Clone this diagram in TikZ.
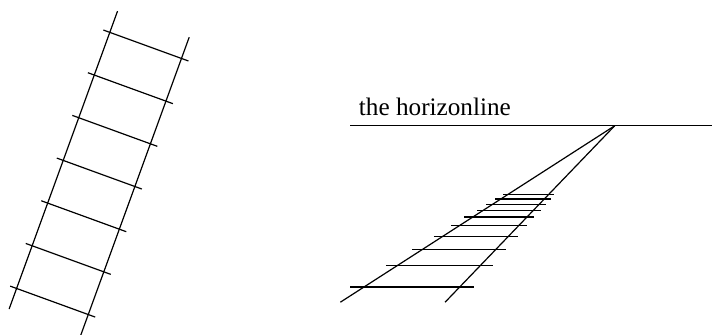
\documentclass[tikz,border=0pt]{standalone}
\usepackage{fontspec}
\setmainfont{Liberation Serif}
\usepackage{tikz}

\begin{document}
\begin{tikzpicture}[
  font=\fontsize{12.6}{15}\selectfont,
  rail/.style={draw=black,line width=0.6pt},
  sleeper/.style={draw=black,line width=0.6pt}
]
  \useasboundingbox (0,0) rectangle (12.51,5.87);

  % ladder, tilted
  \begin{scope}[shift={(0.16,0.44)},rotate=-20]
    \draw[rail] (0,0) -- (0,5.57);
    \draw[rail] (1.34,0) -- (1.34,5.57);
    \foreach \y in {0.385,1.183,1.981,2.779,3.577,4.375,5.173}
      \draw[sleeper] (-0.12,\y) -- (1.47,\y);
  \end{scope}

  % the same ladder seen in perspective
  \coordinate (vp) at (10.80,3.66);
  \coordinate (lend) at (5.98,0.56);
  \coordinate (rend) at (7.82,0.56);
  \node[anchor=base west,inner sep=0pt] (horizon) at (6.30,3.84) {the horizonline};
  \draw[rail] (6.15,3.66) -- (12.51,3.66);
  \draw[rail] (vp) -- (lend);
  \draw[rail] (vp) -- (rend);
  \foreach \y/\xa/\xb in {2.455/8.844/9.735, 2.372/8.699/9.677, 2.279/8.540/9.590,
      2.174/8.382/9.502, 2.056/8.159/9.384, 1.903/7.925/9.261, 1.710/7.621/9.097,
      1.481/7.245/8.897, 1.200/6.778/8.658, 0.826/6.151/8.324}
    \draw[sleeper] (\xa,\y) -- (\xb,\y);
\end{tikzpicture}
\end{document}
